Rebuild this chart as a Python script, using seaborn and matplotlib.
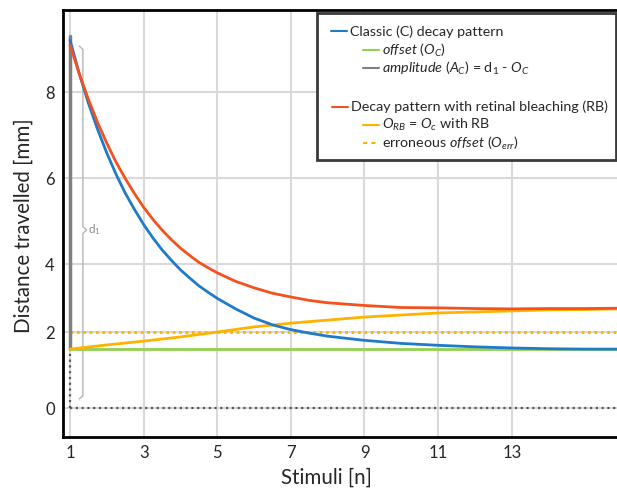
import numpy as np
import pandas as pd
import matplotlib
matplotlib.use("Agg")
import matplotlib.pyplot as plt
import seaborn as sns
from matplotlib.patches import Rectangle
from matplotlib.lines import Line2D

# values
stim_fine = [1, 1.25, 1.5, 1.75, 2, 2.25, 2.5, 2.75, 3, 3.25, 3.5, 3.75, 4, 4.25, 4.5, 4.75, 5,
             5.5, 6, 6.5, 7, 7.5, 8, 9, 10, 11, 12, 13, 14, 15, 15.9]
classic = [9.21, 8.43, 7.74, 7.13, 6.58, 6.09, 5.65, 5.27, 4.92, 4.61, 4.33, 4.09, 3.83, 3.59, 3.36, 3.17, 2.99,
           2.68, 2.41, 2.21, 2.07, 1.97, 1.89, 1.78, 1.70, 1.65, 1.61, 1.58, 1.56, 1.55, 1.55]
bleaching = [9.09, 8.43, 7.83, 7.29, 6.81, 6.37, 5.99, 5.64, 5.32, 5.04, 4.79, 4.57, 4.37, 4.20, 4.04, 3.89, 3.74,
             3.49, 3.30, 3.14, 3.03, 2.93, 2.86, 2.78, 2.72, 2.71, 2.69, 2.68, 2.69, 2.69, 2.70]
stim_int = [1, 2, 3, 4, 5, 6, 7, 8, 9, 10, 11, 12, 13, 14, 15, 15.9]
offset_rb = [1.55, 1.66, 1.76, 1.87, 2.0, 2.15, 2.26, 2.35, 2.44, 2.50, 2.56, 2.59, 2.62, 2.65, 2.66, 2.68]
offset_c = 1.55
offset_err = 2.0
d1 = 9.3
brace_top, brace_mid, brace_bottom = 9.07, 4.79, 0.24

x_ticks = [1, 3, 5, 7, 9, 11, 13]
y_ticks = [0, 2, 4, 6, 8]

# the drawn y axis is not evenly spaced: tick value -> position
y_vals = [-2, 0, 2, 4, 6, 8, 10]
y_pos = [-76, 0, 76, 144, 230, 316, 402]

BLUE = "#1f7bc8"
RED = "#f4511e"
GREEN = "#92d050"
ORANGE = "#ffb300"
GRAY = "#808080"
DOTGRAY = "#595959"

sns.set_style("white")
plt.rcParams["font.family"] = ["Lato", "DejaVu Sans"]
plt.rcParams["mathtext.fontset"] = "custom"
plt.rcParams["mathtext.rm"] = "Lato"
plt.rcParams["mathtext.it"] = "Lato:italic"

fig = plt.figure(figsize=(6.17, 4.94), dpi=100)
ax = fig.add_axes([63 / 617, 1 - 437 / 494, 554 / 617, 427 / 494])

ax.set_yscale("function", functions=(lambda v: np.interp(v, y_vals, y_pos),
                                     lambda p: np.interp(p, y_pos, y_vals)))
ax.set_xlim(0.81, 15.86)
ax.set_ylim(-0.763, 9.907)
ax.set_xticks(x_ticks)
ax.set_yticks(y_ticks)
ax.grid(True, color="#d9d9d9", lw=1.5)
ax.set_axisbelow(True)

# reference lines
ax.plot([1, 15.9], [0, 0], ls=(0, (1, 1.6)), color=DOTGRAY, lw=1.6, zorder=2)
ax.plot([1, 1], [0, offset_c], ls=(0, (1, 1.6)), color=DOTGRAY, lw=1.6, zorder=2)
ax.plot([1, 1], [offset_c, d1], color=GRAY, lw=2.5, zorder=3)
ax.plot([1, 15.9], [offset_err, offset_err], ls=(0, (1, 1.3)), color=ORANGE, lw=2, zorder=2)
ax.plot([1, 15.9], [offset_c, offset_c], color=GREEN, lw=2, zorder=3)

df_c = pd.DataFrame({"n": stim_fine, "classic": classic, "bleaching": bleaching})
df_o = pd.DataFrame({"n": stim_int, "offset_rb": offset_rb})
sns.lineplot(data=df_o, x="n", y="offset_rb", color=ORANGE, lw=2, ax=ax, zorder=4)
sns.lineplot(data=df_c, x="n", y="classic", color=BLUE, lw=2, ax=ax, zorder=5)
sns.lineplot(data=df_c, x="n", y="bleaching", color=RED, lw=2, ax=ax, zorder=6)

# curly brace for d1
bx, hw = 1.35, 0.1
ax.plot([bx - hw, bx, bx, bx + hw, bx, bx, bx - hw],
        [brace_top, brace_top - 0.08, brace_mid + 0.08, brace_mid, brace_mid - 0.08,
         brace_bottom + 0.08, brace_bottom], color="#b5b5b5", lw=1, zorder=2)
ax.text(1.5, brace_mid, r"d$_1$", color="#8c8c8c", fontsize=8.5, va="center", ha="left")

for side in ["left", "bottom", "top"]:
    ax.spines[side].set_color("black")
    ax.spines[side].set_linewidth(2)
ax.spines["right"].set_visible(False)

ax.tick_params(axis="both", length=0, labelsize=12)
ax.tick_params(axis="y", pad=6)
ax.tick_params(axis="x", pad=6)
ax.set_xlabel("Stimuli [n]", fontsize=14.8, va="center")
ax.set_ylabel("Distance travelled [mm]", fontsize=14.8, va="center")

W, H = 554, 427
def fx(px):
    return (px - 63) / W
def fy(py):
    return (437 - py) / H

ax.xaxis.set_label_coords(fx(326), fy(478))
ax.yaxis.set_label_coords(fx(24), fy(226))

# legend box drawn by hand (indented entries)
ax.add_patch(Rectangle((fx(317), fy(160)), fx(616) - fx(317), fy(13) - fy(160),
                       transform=ax.transAxes, facecolor="white", edgecolor="#3a3a3a",
                       lw=2, zorder=10))
entries = [
    (331, 31.5, BLUE, "-", "Classic (C) decay pattern"),
    (363, 50, GREEN, "-", r"$offset\ (O_C)$"),
    (363, 68, GRAY, "-", r"$amplitude\ (A_C)$ = d$_1$ - $O_C$"),
    (332, 107, RED, "-", "Decay pattern with retinal bleaching (RB)"),
    (363, 125, ORANGE, "-", r"$O_{RB}$ = $O_c$ with RB"),
    (363, 143, ORANGE, (0, (2, 2)), r"erroneous $offset\ (O_{err})$"),
]
for x0, y0, col, ls, label in entries:
    ax.add_line(Line2D([fx(x0), fx(x0 + 16)], [fy(y0), fy(y0)], transform=ax.transAxes,
                       color=col, ls=ls, lw=1.5, zorder=11))
    ax.text(fx(x0 + 19), fy(y0), label, transform=ax.transAxes, fontsize=10.3,
            va="center", ha="left", zorder=11)

fig.savefig("out.png", dpi=100)
